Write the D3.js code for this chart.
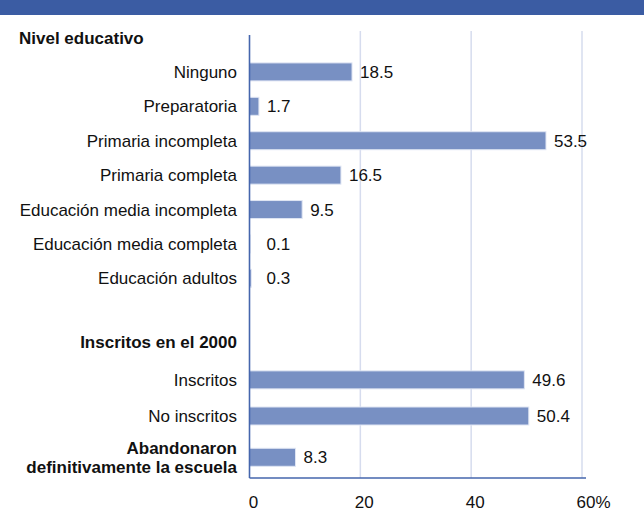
<!DOCTYPE html>
<html>
<head>
<meta charset="utf-8">
<script src="https://cdn.jsdelivr.net/npm/d3@7/dist/d3.min.js"></script>
<style>
  body { margin: 0; background: #fff; }
  svg text { font-family: "Liberation Sans", Arial, Helvetica, sans-serif; fill: #111; }
</style>
</head>
<body>
<div id="chart"></div>
<script>
// rows in display order; header rows have no value
const rowLabels = [
  'Nivel educativo',
  'Ninguno', 'Preparatoria', 'Primaria incompleta', 'Primaria completa',
  'Educación media incompleta', 'Educación media completa', 'Educación adultos',
  '',
  'Inscritos en el 2000',
  'Inscritos', 'No inscritos',
  'Abandonaron|definitivamente la escuela'
];
const rowValues = [null, 18.5, 1.7, 53.5, 16.5, 9.5, 0.1, 0.3, null, null, 49.6, 50.4, 8.3];
const rowKinds = ['title', 'cat', 'cat', 'cat', 'cat', 'cat', 'cat', 'cat', 'gap', 'head', 'cat', 'cat', 'head'];
// slot of each row on the vertical axis (last one sits a bit lower, it has two lines)
const rowSlots = [0, 1, 2, 3, 4, 5, 6, 7, 8, 8.85, 9.95, 11, 12.2];
const xTicks = [0, 20, 40, 60];

const width = 644, height = 512;
const svg = d3.select('#chart').append('svg')
  .attr('width', width)
  .attr('height', height);

// blue band on top
svg.append('rect')
  .attr('x', 0).attr('y', 0)
  .attr('width', width).attr('height', 15)
  .attr('fill', '#3b5ca3');

const x = d3.scaleLinear().domain([0, 60]).range([249.5, 582]);
const y = d3.scaleLinear().domain([0, 11]).range([37.5, 416]);
const barH = 18;

// grid
svg.append('g')
  .selectAll('line')
  .data(xTicks.slice(1))
  .join('line')
  .attr('x1', d => x(d)).attr('x2', d => x(d))
  .attr('y1', 31).attr('y2', 478)
  .attr('stroke', '#d6dcee')
  .attr('stroke-width', 1.5);

const rows = rowLabels.map((label, i) => ({
  label, value: rowValues[i], kind: rowKinds[i], slot: rowSlots[i]
}));

// bars
svg.append('g')
  .selectAll('rect')
  .data(rows.filter(d => d.value !== null))
  .join('rect')
  .attr('x', x(0))
  .attr('y', d => y(d.slot) - barH / 2)
  .attr('width', d => x(d.value) - x(0))
  .attr('height', barH)
  .attr('fill', '#7890c3')
  .attr('stroke', '#dfe5f3')
  .attr('stroke-width', 1);

// value labels
svg.append('g')
  .selectAll('text')
  .data(rows.filter(d => d.value !== null))
  .join('text')
  .attr('x', d => Math.max(x(d.value) + 8, x(0) + 17))
  .attr('y', d => y(d.slot))
  .attr('dy', '0.36em')
  .attr('font-size', 17)
  .text(d => d.value.toFixed(1));

// category labels
const lab = svg.append('g');
rows.filter(d => d.kind !== 'gap').forEach(d => {
  const parts = d.label.split('|');
  const t = lab.append('text')
    .attr('font-size', 17)
    .attr('font-weight', d.kind === 'cat' ? 'normal' : 'bold')
    .attr('text-anchor', d.kind === 'title' ? 'start' : 'end');
  const lx = d.kind === 'title' ? 19 : 237;
  const lineH = 19;
  parts.forEach((p, j) => {
    t.append('tspan')
      .attr('x', lx)
      .attr('y', y(d.slot) + (j - (parts.length - 1) / 2) * lineH)
      .attr('dy', '0.36em')
      .text(p);
  });
});

// axes lines
svg.append('line')
  .attr('x1', x(0)).attr('x2', x(0))
  .attr('y1', 35).attr('y2', 478)
  .attr('stroke', '#4566ad').attr('stroke-width', 1.6);
svg.append('line')
  .attr('x1', x(0)).attr('x2', 586)
  .attr('y1', 478).attr('y2', 478)
  .attr('stroke', '#4566ad').attr('stroke-width', 1.6);

// tick labels, number centred a bit right of its gridline, % hangs after the last one
const ticks = svg.append('g')
  .selectAll('text')
  .data(xTicks)
  .join('text')
  .attr('y', 502)
  .attr('dy', '0.36em')
  .attr('font-size', 17)
  .attr('x', d => x(d) + 4)
  .attr('text-anchor', 'middle')
  .text(d => d);
ticks.filter(d => d === 60).each(function(d) {
  const w = this.getComputedTextLength();
  d3.select(this).attr('text-anchor', 'start').attr('x', x(d) + 4 - w / 2).text(d + '%');
});
</script>
</body>
</html>
